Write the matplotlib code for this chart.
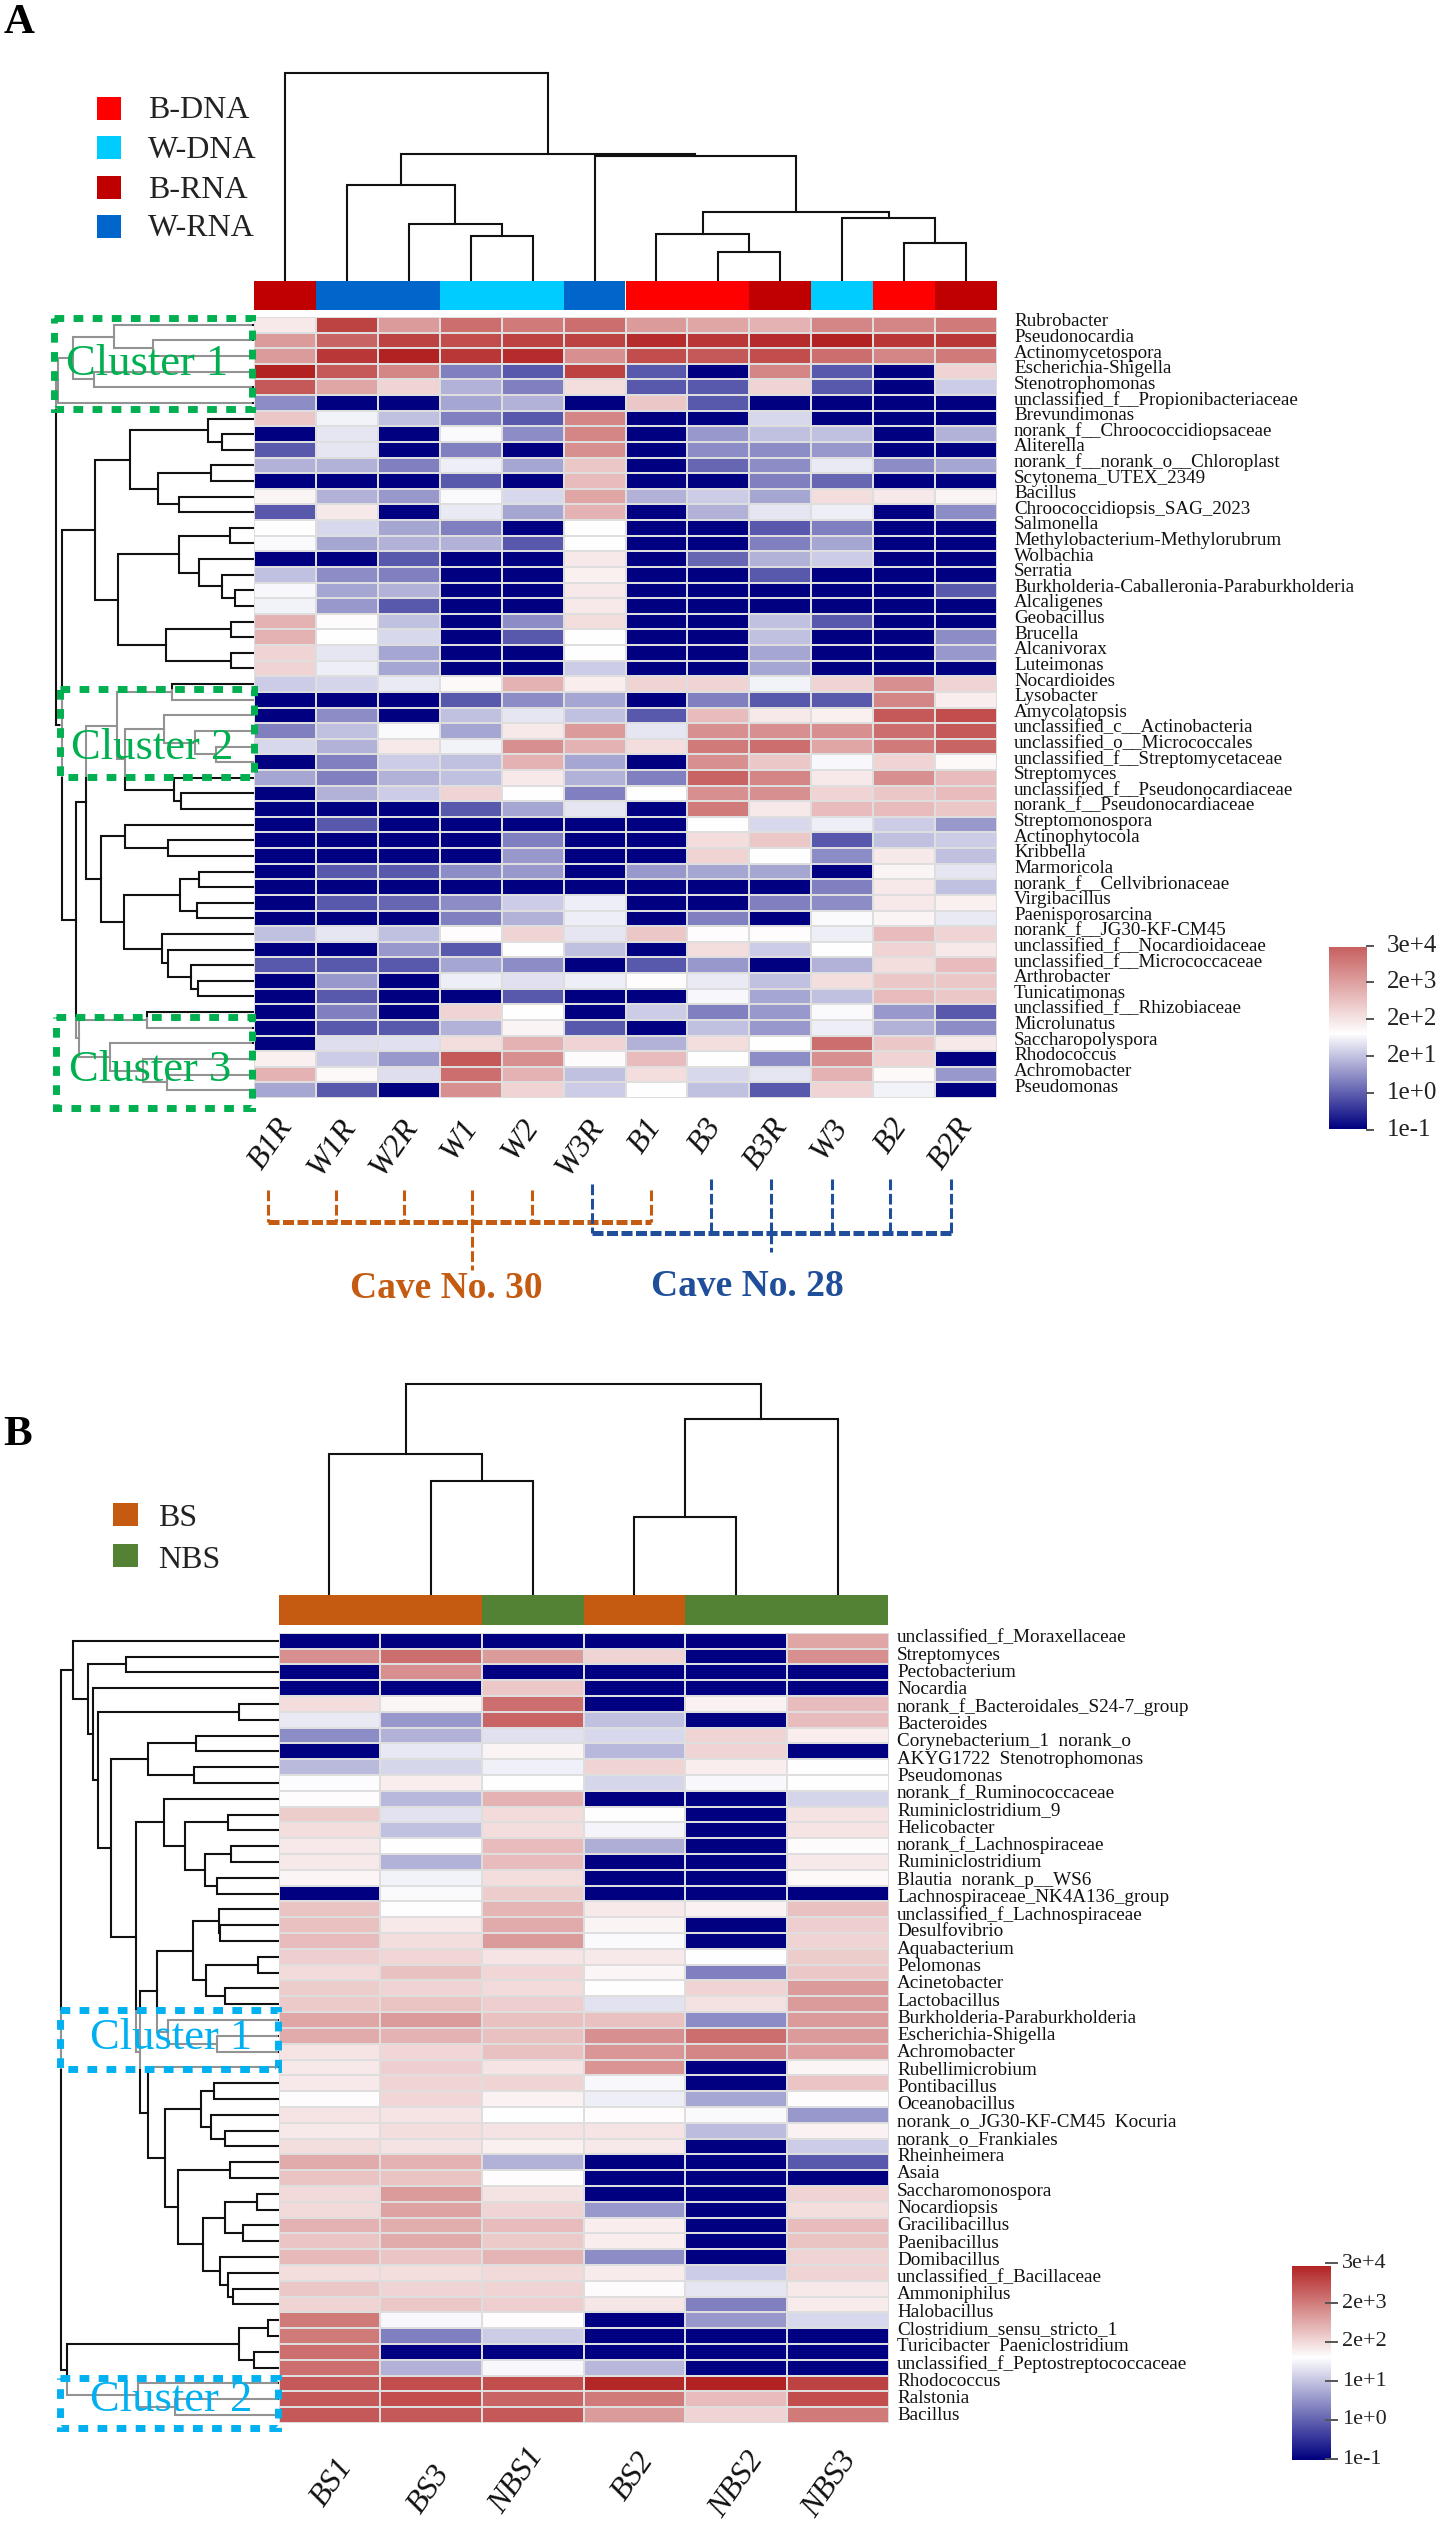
import numpy as np
import matplotlib
matplotlib.use('Agg')
import matplotlib.pyplot as plt
from matplotlib.colors import LinearSegmentedColormap
from matplotlib.patches import Rectangle

plt.rcParams['font.family'] = ['Liberation Serif', 'DejaVu Serif']

W, H = 1441, 2523
N = -10

# panel A
samples_a = ['B1R', 'W1R', 'W2R', 'W1', 'W2', 'W3R', 'B1', 'B3', 'B3R', 'W3', 'B2', 'B2R']
groups_a = ['B-RNA', 'W-RNA', 'W-RNA', 'W-DNA', 'W-DNA', 'W-RNA', 'B-DNA', 'B-DNA', 'B-RNA', 'W-DNA', 'B-DNA', 'B-RNA']
group_colors_a = {'B-DNA': '#ff0000', 'W-DNA': '#00ccff', 'B-RNA': '#c00000', 'W-RNA': '#0066cc'}
taxa_a = ['Rubrobacter', 'Pseudonocardia', 'Actinomycetospora', 'Escherichia-Shigella', 'Stenotrophomonas',
          'unclassified_f__Propionibacteriaceae', 'Brevundimonas', 'norank_f__Chroococcidiopsaceae', 'Aliterella',
          'norank_f__norank_o__Chloroplast', 'Scytonema_UTEX_2349', 'Bacillus', 'Chroococcidiopsis_SAG_2023',
          'Salmonella', 'Methylobacterium-Methylorubrum', 'Wolbachia', 'Serratia',
          'Burkholderia-Caballeronia-Paraburkholderia', 'Alcaligenes', 'Geobacillus', 'Brucella', 'Alcanivorax',
          'Luteimonas', 'Nocardioides', 'Lysobacter', 'Amycolatopsis', 'unclassified_c__Actinobacteria',
          'unclassified_o__Micrococcales', 'unclassified_f__Streptomycetaceae', 'Streptomyces',
          'unclassified_f__Pseudonocardiaceae', 'norank_f__Pseudonocardiaceae', 'Streptomonospora', 'Actinophytocola',
          'Kribbella', 'Marmoricola', 'norank_f__Cellvibrionaceae', 'Virgibacillus', 'Paenisporosarcina',
          'norank_f__JG30-KF-CM45', 'unclassified_f__Nocardioidaceae', 'unclassified_f__Micrococcaceae', 'Arthrobacter',
          'Tunicatimonas', 'unclassified_f__Rhizobiaceae', 'Microlunatus', 'Saccharopolyspora', 'Rhodococcus',
          'Achromobacter', 'Pseudomonas']
values_a = [
    [1, 8.5, 4.5, 6.5, 6, 6.5, 4.5, 4, 3.5, 5.5, 5.5, 6],
    [4.5, 7, 8.5, 8, 8.5, 8.5, 9.5, 9, 9.5, 10, 9, 9],
    [4.5, 9, 10, 9, 9.5, 5, 8, 7.5, 8, 6.5, 5.5, 6],
    [10, 7.5, 5.5, -5, -6.5, 8.5, -6.5, N, 5.5, -6.5, N, 2],
    [7.5, 4, 2, -3, -5, 1.5, -6.5, -6.5, 2, -6.5, N, -2],
    [-4.5, N, N, -3.5, -3, N, 2.5, -6.5, N, N, N, N],
    [2.5, -0.5, -2.5, -5, -6.5, 5.5, N, N, -1.5, N, N, N],
    [N, -1, N, -0.2, -4.5, 5.5, N, -4, -2.5, -2.5, N, -3],
    [-6.5, -1, N, -5, N, 5, N, -4.5, -4.5, -4, N, N],
    [-3, -3, -5, -0.7, -3.5, 2.5, N, -6, -4.5, -0.8, -4.5, -3.5],
    [N, N, N, -6.5, N, 3, N, N, -5, -6, N, N],
    [0.5, -3, -4, -0.2, -1.5, 4, -3, -2, -3.5, 1.5, 1, 0.5],
    [-6.5, 1, N, -0.8, -3.5, 3.5, N, -3, -1, -0.7, N, -4.5],
    [0, -1.5, -3.5, -5, N, 0, N, N, -6.5, -5, N, N],
    [-0.2, -3.5, -3, -3, -6.5, 0, N, N, -5, -3.5, N, N],
    [N, N, -6.5, N, N, 1, N, -6, -3, -2, N, N],
    [-2.5, -4.5, -5, N, N, 0.7, N, N, -6.5, N, N, N],
    [-0.3, -3.5, -3, N, N, 1, N, N, N, N, N, -6.5],
    [-0.5, -4, -6.5, N, N, 1, N, N, N, N, N, N],
    [3.5, 0.2, -2.5, N, -4.5, 1.5, N, N, -2.5, -6.5, N, N],
    [3.5, 0, -1.5, N, -6.5, 0, N, N, -2.5, N, N, -4.5],
    [2, -1, -3.5, N, N, 0, N, N, -3.5, N, N, -4],
    [2, -0.7, -3.5, N, N, -2, N, N, -3.5, N, N, N],
    [-2, -1.7, -0.8, 0.3, 3.5, 0.8, 2, 2, -0.5, 2, 5, 2],
    [N, N, N, -6.5, -4.5, -3.5, N, -5, -6.5, -6.5, 5.5, 0.8],
    [N, -4.5, N, -2.5, -1, -2.5, -6.5, 3, 1, 0.7, 7.5, 8],
    [-5, -2.5, -0.2, -3.5, 1, 4.5, -1, 5, 5, 5, 6.5, 7.5],
    [-1.5, -3, 1, -0.5, 5, 3.5, 1.5, 6, 6.5, 4, 6, 7],
    [N, -5, -2, -2.5, 3.5, -3.5, N, 5, 2.5, -0.3, 2, 0.3],
    [-3.5, -5, -3, -2.5, 1, -3, -5, 7, 5.5, 1, 5, 3],
    [N, -3, -2, 2, 0, -5, 0, 5, 5, 2, 2.5, 3],
    [N, N, N, -6.5, -3.5, -1, N, 6, 1, 3, 3, 2.5],
    [N, -6.5, N, N, N, N, N, 0, -1.5, -0.7, -2, -4],
    [N, N, N, N, -5, N, N, 1.5, 2.5, -6.5, -2.5, -2],
    [N, N, N, N, -4, N, N, 2, 0, -4.5, 1, -2.5],
    [N, -6.5, -6.5, -4.5, -4, N, -4, -3.5, -3.5, N, 0.5, -1],
    [N, N, N, N, N, N, N, N, N, -5, 1, -2.5],
    [N, -6.5, -6, -4.5, -2, -0.7, N, N, -5, -4.5, 1, 0.7],
    [N, N, N, -5, -3, -0.7, N, -5, N, -0.2, 0.5, -0.8],
    [-2.5, -1, -2.5, 0.1, 2, -1, 2.5, 0.1, 0.1, -0.7, 3, 2],
    [N, N, -4, -6.5, 0, -2.5, N, 1.5, -2, 0, 2, 1],
    [-6.5, -6.5, -6.5, -3.5, -4.5, N, -6.5, -4, N, -3, 1.5, 3],
    [N, -4, N, -0.7, -1.2, -0.7, 0.1, -0.8, -2.5, 1.5, 2.5, 2.5],
    [N, -6.5, N, N, -6.5, N, N, -0.3, -3.5, -2.5, 3, 2.5],
    [N, -5, N, 2, 0, N, -2, -5, -4, -0.2, -4, -6.5],
    [N, -6.5, -6.5, -3, 0.5, -6.5, N, -2.5, -4, -0.7, -3, -4.5],
    [N, -1.3, -1.2, 1.5, 3.5, 2, -3, 1.5, 0, 6.5, 2.5, 1],
    [0.7, -2, -4, 7.5, 5, 0.2, 3, 0, -4.5, 5, 2, N],
    [3.5, 0.3, -1.3, 6.5, 3.5, -2.5, 1.5, -1.5, -1, 3.5, 0.3, -4],
    [-3.5, -6.5, N, 5, 2, -2, 0, -2.5, -6.5, 2, -0.5, N],
]
# linkage nodes are [height, left, right], a leaf is the row or column index
col_tree_a = [73, 0, [154, [185, 1, [224, 2, [236, 3, 4]]],
                      [156, 5, [212, [234, 6, [252, 7, 8]], [218, 9, [243, 10, 11]]]]]]
clust1_a = [86, [108, [168, 0, [227, 1, 2]], [139, 3, 4]], 5]
rows_6_22 = [140, [193, [308, 6, [328, 7, 8]], [233, [312, 9, 10], [265, 11, 12]]],
             [175, [265, [340, 13, 14], [295, 15, [328, 16, [347, 17, 18]]]],
              [246, [341, 19, 20], [341, 21, 22]]]]
clust2_a = [173, [255, 23, 24], [185, [243, 25, [288, 26, [320, 27, 28]]], [258, 29, [268, 30, 31]]]]
rows_32_43 = [150, [185, 32, [248, 33, 34]],
              [183, [266, [295, 35, 36], [292, 37, 38]],
               [240, 39, [248, 40, [282, 41, [293, 42, 43]]]]]]
clust3_a = [117, [218, 44, 45], [163, 46, [212, 47, [247, 48, 49]]]]
row_tree_a = [83, clust1_a, [92, rows_6_22, [113, [127, clust2_a, rows_32_43], clust3_a]]]

# panel B
samples_b = ['BS1', 'BS3', 'NBS1', 'BS2', 'NBS2', 'NBS3']
groups_b = ['BS', 'BS', 'NBS', 'BS', 'NBS', 'NBS']
group_colors_b = {'BS': '#c55a11', 'NBS': '#548235'}
taxa_b = ['unclassified_f_Moraxellaceae', 'Streptomyces', 'Pectobacterium', 'Nocardia',
          'norank_f_Bacteroidales_S24-7_group', 'Bacteroides', 'Corynebacterium_1  norank_o',
          'AKYG1722  Stenotrophomonas', 'Pseudomonas', 'norank_f_Ruminococcaceae', 'Ruminiclostridium_9', 'Helicobacter',
          'norank_f_Lachnospiraceae', 'Ruminiclostridium', 'Blautia  norank_p__WS6', 'Lachnospiraceae_NK4A136_group',
          'unclassified_f_Lachnospiraceae', 'Desulfovibrio', 'Aquabacterium', 'Pelomonas', 'Acinetobacter',
          'Lactobacillus', 'Burkholderia-Paraburkholderia', 'Escherichia-Shigella', 'Achromobacter', 'Rubellimicrobium',
          'Pontibacillus', 'Oceanobacillus', 'norank_o_JG30-KF-CM45  Kocuria', 'norank_o_Frankiales', 'Rheinheimera',
          'Asaia', 'Saccharomonospora', 'Nocardiopsis', 'Gracilibacillus', 'Paenibacillus', 'Domibacillus',
          'unclassified_f_Bacillaceae', 'Ammoniphilus', 'Halobacillus', 'Clostridium_sensu_stricto_1',
          'Turicibacter  Paeniclostridium', 'unclassified_f_Peptostreptococcaceae', 'Rhodococcus', 'Ralstonia', 'Bacillus']
values_b = [
    [N, N, N, N, N, 4],
    [5, 6.5, 4.5, 2, N, 5],
    [N, 5, N, N, N, N],
    [N, N, 2.5, N, N, N],
    [1.5, 0.4, 6.5, N, 0.6, 3],
    [-0.8, -4, 7, -2.5, N, 3],
    [-4.5, -3, -1.2, -1.5, 2, 0.8],
    [N, -0.9, 0.5, -2.8, 2, N],
    [-2.7, -1.6, -0.6, 2, 0.8, 0],
    [-0.1, 0.8, 0, -1.6, -0.3, 0],
    [0.1, -2.8, 3.5, N, N, -1.7],
    [2.3, -1.1, 1.6, 0, N, 1.3],
    [1.5, -2.5, 1.5, -0.4, N, 1.2],
    [1, 0, 3, -3.2, N, 0.2],
    [1, -3, 3, N, N, 1],
    [0.4, -0.5, 1.5, N, N, 0.3],
    [N, -0.2, 2.3, N, N, N],
    [2.7, 0, 3.3, 1, 0.6, 2.8],
    [2.8, 1, 3.8, 0.5, N, 2.2],
    [3, 1.5, 4.5, -0.2, N, 2],
    [2.2, 1.8, 1.2, 1, 0, 2.3],
    [1.6, 2.8, 1.8, 0.4, -5, 2.5],
    [2.3, 2, 1.6, 0, 2, 4.5],
    [2.4, 2.7, 2.2, -1.1, 1.4, 4.5],
    [4, 4.5, 2.8, 2.8, -4.5, 4.5],
    [3.8, 3.5, 2.8, 5, 6.5, 4.5],
    [1.2, 1.8, 2.8, 4.7, 5.5, 4.3],
    [1, 2.2, 1.2, 4.8, N, 0.4],
    [1, 2, 2, -0.3, N, 2.6],
    [0.1, 1.8, 0.6, -0.7, -3.5, 0.1],
    [1.2, 1.2, 0, 0.1, -0.2, -4],
    [1, 1.5, 1.3, 1.2, -2.6, 0.6],
    [1.5, 1.3, 0.7, 1, N, -2],
    [3.8, 3.5, -3, N, N, -6.5],
    [2.7, 2.7, 0.1, N, N, N],
    [1.7, 4.5, 1.3, N, N, 2],
    [1.7, 4.2, 2, -4, N, 1.5],
    [3.5, 3.7, 3, 0.8, N, 3],
    [2.6, 3.8, 2.4, 0.8, N, 2.7],
    [3.2, 2.6, 3.4, -4.5, N, 2],
    [1.5, 1.5, 1.7, 0.9, -2, 2],
    [2.5, 2, 2, 0.2, -1, 1],
    [2, 2.5, 2.2, 1.1, -5, 0.9],
    [6, -0.3, 0.1, N, -4, -1.5],
    [6, -5, -2, N, N, N],
    [6.5, N, N, N, N, N],
    [6.5, -3, -0.3, -2.8, N, N],
    [7.5, 8, 8, 9.7, 10, 8.5],
    [7.5, 8, 7, 6, 3, 8],
    [7.5, 7.5, 7.5, 4.5, 2, 6],
]
col_tree_b = [1384, [1454, 0, [1481, 1, 2]], [1419, [1517, 3, 4], 5]]
upper_b = [242, [320, 6, 7], [317, 8, 9]]
rumino_b = [268, 10, [302, [372, 11, 12], [335, [378, 13, 14], [355, 15, 16]]]]
clust1_b = [257, [315, [357, 17, [360, 18, 19]], [337, [422, 20, 21], [368, 22, 23]]], [275, 24, [355, 25, 26]]]
bacilli_b = [270, [328, [350, 28, 29], [345, 30, [367, 31, 32]]],
             [290, [375, 33, 34], [332, [367, [420, 35, 36], [397, 37, 38]], [360, 39, [373, 40, [380, 41, 42]]]]]]
lower_b = [222, rumino_b, [228, clust1_b, [242, 27, bacilli_b]]]
top_b = [119, 0, [143, [205, 1, 2], [152, 3, [160, [390, 4, 5], [182, upper_b, lower_b]]]]]
tail_b = [110, [390, [437, 43, 44], [415, 45, 46]], [225, 47, [285, 48, 49]]]
row_tree_b = [100, top_b, tail_b]

cbar_ticks_a = ['1e-1', '1e+0', '2e+1', '2e+2', '2e+3', '3e+4']
cbar_ticks_b = ['1e-1', '1e+0', '1e+1', '2e+2', '2e+3', '3e+4']

cmap = LinearSegmentedColormap.from_list('heat', ['#000080', '#ffffff', '#b22222'])

fig = plt.figure(figsize=(W / 100, H / 100), dpi=100)


def px_axes(x0, y0, x1, y1, zorder=1):
    ax = fig.add_axes([x0 / W, 1 - y1 / H, (x1 - x0) / W, (y1 - y0) / H], zorder=zorder)
    ax.axis('off')
    return ax


def walk(node, draw, leaf_h):
    # returns position along the leaves and height of this node
    if not isinstance(node, list):
        return node + 0.5, leaf_h
    h, left, right = node
    p1, h1 = walk(left, draw, leaf_h)
    p2, h2 = walk(right, draw, leaf_h)
    draw([h1, h, h, h2], [p1, p1, p2, p2])
    return (p1 + p2) / 2, h


def heat_panel(x0, y0, x1, y1, values, groups, colors, bar_top, bar_bot, col_tree, tree_top, row_tree, tree_xmax):
    values = np.array(values, dtype=float)
    nr, nc = values.shape
    ax = px_axes(x0, y0, x1, y1, zorder=2)
    ax.pcolormesh(values, cmap=cmap, vmin=-10, vmax=10, edgecolors='#dedede', linewidth=1.4)
    ax.set_ylim(nr, 0)
    ax.set_xlim(0, nc)

    bar = px_axes(x0, bar_top, x1, bar_bot, zorder=2)
    for i, g in enumerate(groups):
        bar.bar(i + 0.5, 1, width=1, color=colors[g])
    bar.set_xlim(0, nc)
    bar.set_ylim(0, 1)

    top = px_axes(x0, tree_top, x1, bar_top)
    walk(col_tree, lambda h, p: top.plot(p, h, color='#111111', lw=1.5, solid_joinstyle='miter'), bar_top)
    top.set_xlim(0, nc)
    top.set_ylim(bar_top, tree_top)

    side = px_axes(0, y0, x0, y1)
    walk(row_tree, lambda h, p: side.plot(h, p, color='#111111', lw=1.5, solid_joinstyle='miter'), tree_xmax)
    side.set_xlim(0, tree_xmax)
    side.set_ylim(nr, 0)


def cbar(x0, y0, x1, y1, top_color, labels, tick_ys, tick_x0, tick_x1, label_x, size):
    cm = LinearSegmentedColormap.from_list('cb', [(0, '#000080'), (0.525, '#ffffff'), (1, top_color)])
    ax = px_axes(x0, y0, x1, y1, zorder=2)
    ax.imshow(np.linspace(1, 0, 256).reshape(-1, 1), cmap=cm, aspect='auto', vmin=0, vmax=1)
    for lab, ty in zip(labels, tick_ys):
        over.plot([tick_x0, tick_x1], [ty, ty], color='#555555', lw=1.4)
        over.text(label_x, ty, lab, fontsize=size, va='center', ha='left', color='#222222')


# overlay in figure pixels for annotations drawn on top of the trees
over = px_axes(0, 0, W, H, zorder=5)
over.set_xlim(0, W)
over.set_ylim(H, 0)

heat_panel(254, 317, 997, 1098, values_a, groups_a, group_colors_a, 281, 310, col_tree_a, 0, row_tree_a, 254 * 1.479)
heat_panel(278.6, 1632.8, 888.5, 2423, values_b, groups_b, group_colors_b, 1595, 1625, col_tree_b, 1300, row_tree_b, 278.6 * 1.633)

# legends
for (name, y0) in zip(['B-DNA', 'W-DNA', 'B-RNA', 'W-RNA'], [97, 136, 176, 215]):
    over.add_patch(Rectangle((97, y0), 24, 22.5, color=group_colors_a[name], lw=0))
    over.text(148, y0 + 14, name, fontsize=23, va='center', color='#222222')
for (name, y0) in zip(['BS', 'NBS'], [1503, 1544]):
    over.add_patch(Rectangle((113, y0), 25, 23, color=group_colors_b[name], lw=0))
    over.text(158, y0 + 16, name, fontsize=23, va='center', color='#222222')

over.text(4, 33, 'A', fontsize=31, fontweight='bold', va='baseline')
over.text(3, 1445, 'B', fontsize=31, fontweight='bold', va='baseline')

# row labels
h_a = (1098 - 317) / len(taxa_a)
for i, name in enumerate(taxa_a):
    over.text(1014, 317 + h_a * (i + 0.5) - 3, name, fontsize=13.7, va='center', color='#111111')
h_b = (2416 - 1638) / (len(taxa_b) - 1)
for i, name in enumerate(taxa_b):
    over.text(897, 1638 + h_b * i, name, fontsize=13.8, va='center', color='#111111')

# sample labels, hand placed in the figure as well
shift_a = [-10, -8, -8, -10, -11, -8, -12, -14, -10, -12, -14, -11]
for i, name in enumerate(samples_a):
    over.text(254 + (i + 0.5) * 743 / 12 + shift_a[i], 1113, name, fontsize=23, style='italic', rotation=55,
              rotation_mode='anchor', ha='right', va='top', color='#111111')
shift_b = [6, 1, -7, 2, 10, 1]
top_y_b = [2453, 2460, 2443, 2447, 2447, 2447]
for i, name in enumerate(samples_b):
    over.text(278.6 + (i + 0.5) * 609.9 / 6 + shift_b[i], top_y_b[i], name, fontsize=23, style='italic', rotation=55,
              rotation_mode='anchor', ha='right', va='top', color='#111111')

# colour bars
cbar(1329, 947, 1367, 1129, '#c86060', cbar_ticks_a[::-1], [946, 982, 1019, 1056, 1093, 1130], 1367, 1373, 1387, 18)
cbar(1292, 2266, 1331, 2460, '#b22222', cbar_ticks_b[::-1], [2263, 2303, 2342, 2381, 2420, 2459], 1326, 1337, 1342, 16)


def cluster_box(x0, y0, x1, y1, text, tx, ty, color):
    over.add_patch(Rectangle((x0, y0), x1 - x0, y1 - y0, facecolor='white', alpha=0.55, lw=0))
    over.add_patch(Rectangle((x0, y0), x1 - x0, y1 - y0, fill=False, edgecolor=color, lw=5,
                             ls=(0, (1.4, 1.35)), capstyle='butt', joinstyle='miter'))
    over.text(tx, ty, text, fontsize=32, color=color, ha='center', va='center')


cluster_box(54, 318, 252, 409, 'Cluster 1', 147, 364, '#00b050')
cluster_box(60, 689, 254, 777, 'Cluster 2', 152, 748, '#00b050')
cluster_box(56, 1017, 252, 1108, 'Cluster 3', 150, 1070, '#00b050')
cluster_box(60, 2010, 278, 2069, 'Cluster 1', 171, 2038, '#00b0f0')
cluster_box(60, 2378, 278, 2428, 'Cluster 2', 171, 2400, '#00b0f0')

# cave brackets
dash_v = (0, (3.5, 1.2))
dash_h = (0, (2.2, 0.7))
for x in [268, 336, 404, 472, 532, 651]:
    over.plot([x, x], [1190, 1222], color='#c55a11', lw=2.2, ls=dash_v)
over.plot([268, 651], [1222, 1222], color='#c55a11', lw=3.6, ls=dash_h)
over.plot([472, 472], [1222, 1270], color='#c55a11', lw=2.2, ls=dash_v)
over.text(446, 1289, 'Cave No. 30', fontsize=27, fontweight='bold', color='#c55a11', ha='center', va='center')
for x, top in zip([592, 711, 771, 832, 890, 951], [1184, 1179, 1179, 1179, 1179, 1179]):
    over.plot([x, x], [top, 1233], color='#1f4e9a', lw=2.2, ls=dash_v)
over.plot([592, 951], [1233, 1233], color='#1f4e9a', lw=3.6, ls=dash_h)
over.plot([771, 771], [1233, 1252], color='#1f4e9a', lw=2.2, ls=dash_v)
over.text(747, 1286, 'Cave No. 28', fontsize=27, fontweight='bold', color='#1f4e9a', ha='center', va='center')

over.set_xlim(0, W)
over.set_ylim(H, 0)
fig.savefig('out.png', dpi=100, facecolor='white')
